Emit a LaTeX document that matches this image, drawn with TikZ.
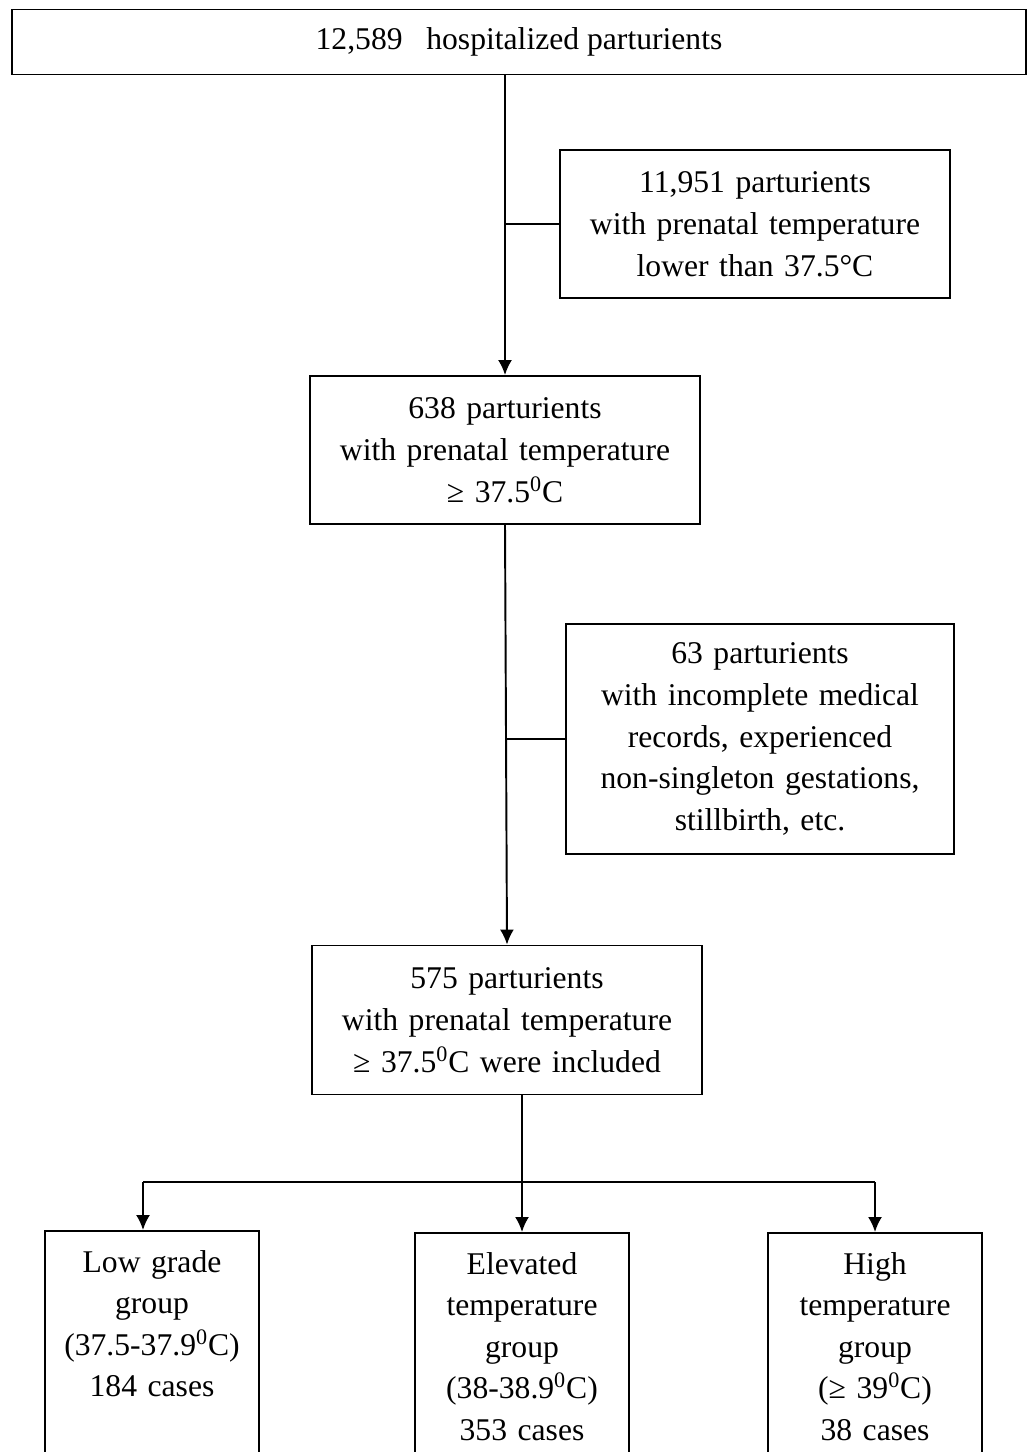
\documentclass[tikz,border=0pt]{standalone}
\usepackage{fontspec}
\setmainfont{Liberation Serif}
\usetikzlibrary{arrows.meta, calc, positioning}

\begin{document}
\begin{tikzpicture}[x=0.02cm, y=-0.02cm, >={Latex[length=0.3cm,width=0.28cm]}, line width=1.1pt,
    box/.style={draw, rectangle, align=center, inner sep=0pt, font=\fontsize{18}{23.8}\selectfont},
    groupbox/.style={draw, rectangle, anchor=north, align=center, text width=4.28cm,
        inner xsep=0pt, inner ysep=11pt, text depth=8cm, font=\fontsize{18}{23.6}\selectfont}]

            % Fix the page size and cut the group boxes at its bottom
            \useasboundingbox (0,0) rectangle (1034,1452);
            \clip (0,0) rectangle (1034,1452);

            % Draw all parturients
            \node[box, minimum width=20.28cm, minimum height=1.3cm] (total) at (519,42) {12,589~~~hospitalized parturients};

            % Draw the first exclusion and the fever box
            \node[box, minimum width=7.8cm, minimum height=2.96cm, text width=7.4cm] (excl1) at (755,224) {11,951 parturients\\with prenatal temperature\\lower than 37.5°C};
            \node[box, minimum width=7.8cm, minimum height=2.96cm, text width=7.4cm] (fever) at (505,450) {638 parturients\\with prenatal temperature\\≥ 37.5\textsuperscript{0}C};

            % Draw the second exclusion and the included ones
            \node[box, minimum width=7.76cm, minimum height=4.6cm, text width=7.4cm] (excl2) at (760,739) {63 parturients\\with incomplete medical\\records, experienced\\non-singleton gestations,\\stillbirth, etc.};
            \node[box, minimum width=7.8cm, minimum height=2.98cm, text width=7.4cm] (incl) at (507,1020) {575 parturients\\with prenatal temperature\\≥ 37.5\textsuperscript{0}C were included};

            % Draw the three groups
            \node[groupbox] (low) at (152,1230) {Low grade\\group\\(37.5-37.9\textsuperscript{0}C)\\184 cases};
            \node[groupbox] (elev) at (522,1232) {Elevated\\temperature\\group\\(38-38.9\textsuperscript{0}C)\\353 cases};
            \node[groupbox] (high) at (875,1232) {High\\temperature\\group\\(≥ 39\textsuperscript{0}C)\\38 cases};

            \coordinate (fork) at (518,1182);

            % Arrows down the main line
            \draw[->] (total.south -| fever.north) -- (fever.north);
            \draw (excl1.west) -- (excl1.west -| fever.north);
            \draw[->] (fever.south) -- (incl.north);
            \draw (excl2.west) -- (excl2.west -| incl.north);

            % Arrows to the groups
            \draw[->] (incl.south -| elev.north) -- (elev.north);
            \draw ([xshift=-0.18cm]low.north |- fork) -- (high.north |- fork);
            \draw[->] ([xshift=-0.18cm]low.north |- fork) -- ([xshift=-0.18cm]low.north);
            \draw[->] (high.north |- fork) -- (high.north);

        \end{tikzpicture}
\end{document}
